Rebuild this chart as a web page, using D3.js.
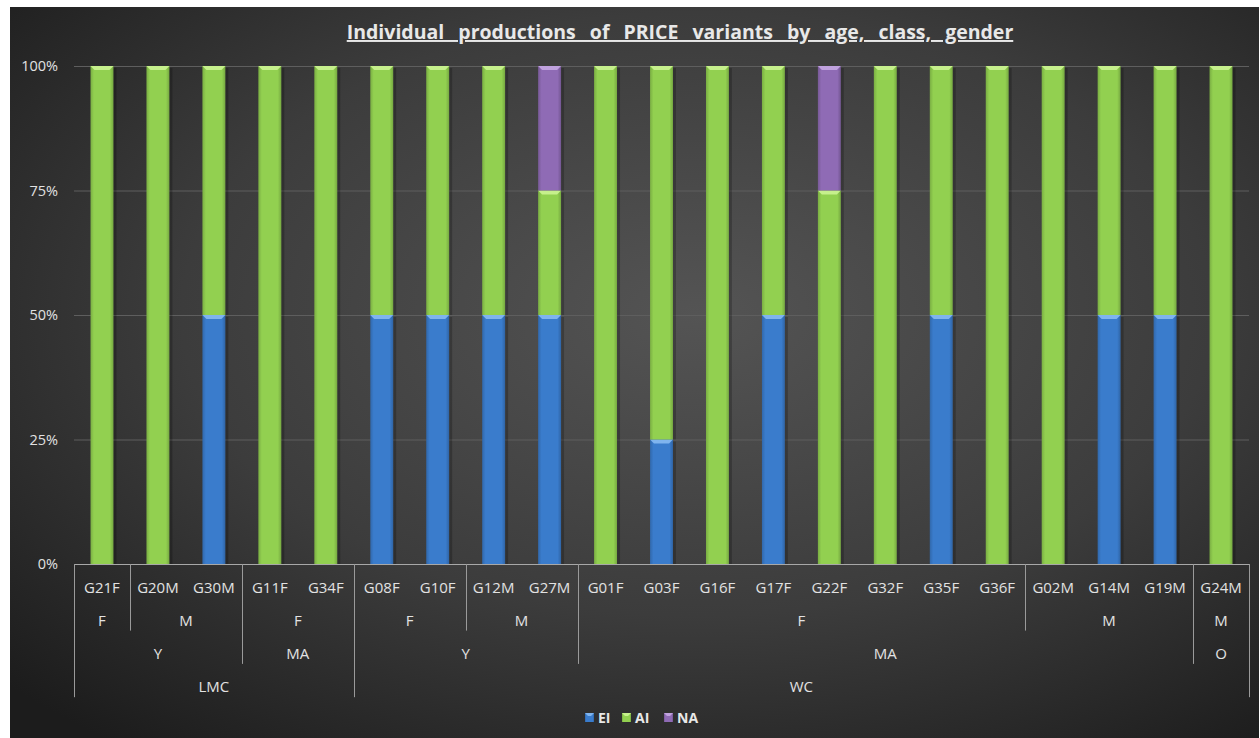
<!DOCTYPE html>
<html lang="en">
<head>
  <meta charset="UTF-8">
  <title>Individual productions of PRICE variants</title>
  <script src="https://d3js.org/d3.v7.min.js"></script>
  <style>
    body { margin: 0; background: #fff; }
    text { font-family: "Open Sans", "DejaVu Sans", sans-serif; }
    .title { font-size: 19.5px; font-weight: bold; fill: #e8e8e8; text-decoration: underline; word-spacing: 9px; }
    .cat { font-size: 15px; fill: #e2e2e2; }
    .ylab { font-size: 14.5px; fill: #e2e2e2; }
    .leg { font-size: 14px; font-weight: bold; fill: #e8e8e8; }
  </style>
</head>
<body>
  <div id="chart"></div>

  <script>
    const speakers = ["G21F","G20M","G30M","G11F","G34F","G08F","G10F","G12M","G27M",
                      "G01F","G03F","G16F","G17F","G22F","G32F","G35F","G36F","G02M","G14M","G19M","G24M"];
    const gender = ["F","M","M","F","F","F","F","M","M",
                    "F","F","F","F","F","F","F","F","M","M","M","M"];
    const age    = ["Y","Y","Y","MA","MA","Y","Y","Y","Y",
                    "MA","MA","MA","MA","MA","MA","MA","MA","MA","MA","MA","O"];
    const cls    = ["LMC","LMC","LMC","LMC","LMC","WC","WC","WC","WC",
                    "WC","WC","WC","WC","WC","WC","WC","WC","WC","WC","WC","WC"];

    const seriesNames = ["EI", "AI", "NA"];
    const EI = [0,0,50,0,0,50,50,50,50, 0,25,0,50,0,0,50,0,0,50,50,0];
    const AI = [100,100,50,100,100,50,50,50,25, 100,75,100,50,75,100,50,100,100,50,50,100];
    const NA = [0,0,0,0,0,0,0,0,25, 0,0,0,0,25,0,0,0,0,0,0,0];
    const yTicks = [0, 25, 50, 75, 100];

    const colors = { EI: "#3a7ccc", AI: "#92d050", NA: "#8f6bb5" };
    const lighter = { EI: "#7fb4ee", AI: "#c6f08c", NA: "#c0a2de" };

    const W = 1260, H = 738;
    const plotL = 74, plotR = 1249, plotT = 66, plotB = 564;
    const rowH = 33.3;

    const svg = d3.select("#chart").append("svg")
      .attr("width", W).attr("height", H);

    const defs = svg.append("defs");
    const bg = defs.append("radialGradient").attr("id", "bg")
      .attr("cx", "0.55").attr("cy", "0.42").attr("r", "0.75");
    bg.append("stop").attr("offset", "0%").attr("stop-color", "#545454");
    bg.append("stop").attr("offset", "55%").attr("stop-color", "#3c3c3c");
    bg.append("stop").attr("offset", "100%").attr("stop-color", "#1c1c1c");

    seriesNames.forEach(s => {
      const g = defs.append("linearGradient").attr("id", "g" + s)
        .attr("x1", "0").attr("x2", "1").attr("y1", "0").attr("y2", "0");
      const c = d3.color(colors[s]);
      g.append("stop").attr("offset", "0%").attr("stop-color", c.darker(0.5));
      g.append("stop").attr("offset", "15%").attr("stop-color", c);
      g.append("stop").attr("offset", "85%").attr("stop-color", c);
      g.append("stop").attr("offset", "100%").attr("stop-color", c.darker(0.6));
    });

    svg.append("rect").attr("x", 10).attr("y", 7).attr("width", 1249).attr("height", 731)
      .attr("fill", "url(#bg)");

    const x = d3.scaleBand().domain(speakers).range([plotL, plotR])
      .paddingInner(0.59).paddingOuter(0.295);
    const y = d3.scaleLinear().domain([0, 100]).range([plotB, plotT]);

    // gridlines
    svg.append("g").selectAll("line").data(yTicks.filter(t => t > 0)).join("line")
      .attr("x1", plotL).attr("x2", plotR)
      .attr("y1", d => y(d) + 0.5).attr("y2", d => y(d) + 0.5)
      .attr("stroke", "#5e5e5e").attr("stroke-width", 1);

    // y labels
    svg.append("g").selectAll("text").data(yTicks).join("text")
      .attr("class", "ylab")
      .attr("x", 58).attr("y", d => y(d)).attr("dy", "0.35em")
      .attr("text-anchor", "end")
      .text(d => d + "%");

    // stacked bars
    const rows = speakers.map((s, i) => ({ name: s, EI: EI[i], AI: AI[i], NA: NA[i] }));
    const stacked = d3.stack().keys(seriesNames)(rows);
    const bw = x.bandwidth();

    stacked.forEach(layer => {
      const key = layer.key;
      const g = svg.append("g");
      const segs = layer.filter(d => d[1] - d[0] > 0);
      g.selectAll("rect.shadow").data(segs).join("rect")
        .attr("class", "shadow")
        .attr("x", d => x(d.data.name) + bw).attr("width", 3)
        .attr("y", d => y(d[1]) + 2).attr("height", d => y(d[0]) - y(d[1]) - 2)
        .attr("fill", "#000").attr("opacity", 0.22);
      g.selectAll("rect.bar").data(segs).join("rect")
        .attr("class", "bar")
        .attr("x", d => x(d.data.name)).attr("width", bw)
        .attr("y", d => y(d[1])).attr("height", d => y(d[0]) - y(d[1]))
        .attr("fill", "url(#g" + key + ")");
      // bevel cap
      g.selectAll("path.cap").data(segs).join("path")
        .attr("class", "cap")
        .attr("d", d => {
          const x0 = x(d.data.name), y0 = y(d[1]);
          return `M${x0},${y0}L${x0 + bw},${y0}L${x0 + bw - 4},${y0 + 4}L${x0 + 4},${y0 + 4}Z`;
        })
        .attr("fill", lighter[key]);
    });

    // axis line
    svg.append("line").attr("x1", plotL).attr("x2", plotR)
      .attr("y1", plotB + 0.5).attr("y2", plotB + 0.5)
      .attr("stroke", "#a8a8a8").attr("stroke-width", 1);

    // multi-level category axis
    const axis = svg.append("g");
    axis.selectAll("text.spk").data(speakers).join("text")
      .attr("class", "cat")
      .attr("x", d => x(d) + bw / 2).attr("y", plotB + rowH * 0.7).attr("dy", "0.35em")
      .attr("text-anchor", "middle").text(d => d);

    const step = x.step();
    const edge = i => plotL + step * i;

    function runs(keyFn) {
      const out = [];
      speakers.forEach((s, i) => {
        const k = keyFn(i);
        if (out.length && out[out.length - 1].k === k) out[out.length - 1].end = i;
        else out.push({ k: k, start: i, end: i });
      });
      return out;
    }
    const levels = [
      { fn: i => cls[i] + "|" + age[i] + "|" + gender[i], lab: i => gender[i] },
      { fn: i => cls[i] + "|" + age[i], lab: i => age[i] },
      { fn: i => cls[i], lab: i => cls[i] }
    ];
    levels.forEach((lv, li) => {
      const r = runs(lv.fn);
      axis.selectAll("text.l" + li).data(r).join("text")
        .attr("class", "cat")
        .attr("x", d => (edge(d.start) + edge(d.end + 1)) / 2)
        .attr("y", plotB + rowH * (li + 1.7)).attr("dy", "0.35em")
        .attr("text-anchor", "middle").text(d => lv.lab(d.start));
    });

    // separators: depth depends on the highest level that changes
    const seps = [];
    for (let i = 0; i <= speakers.length; i++) {
      let depth = 0;
      if (i === 0 || i === speakers.length || cls[i] !== cls[i - 1]) depth = 4;
      else if (age[i] !== age[i - 1]) depth = 3;
      else if (gender[i] !== gender[i - 1]) depth = 2;
      if (depth) seps.push({ i: i, depth: depth });
    }
    axis.selectAll("line.sep").data(seps).join("line")
      .attr("x1", d => Math.round(edge(d.i)) + 0.5).attr("x2", d => Math.round(edge(d.i)) + 0.5)
      .attr("y1", plotB).attr("y2", d => plotB + rowH * d.depth)
      .attr("stroke", "#9a9a9a").attr("stroke-width", 1);

    // title
    svg.append("text").attr("class", "title")
      .attr("x", 680).attr("y", 39).attr("text-anchor", "middle")
      .text("Individual productions of PRICE variants by age, class, gender");

    // legend
    const legX = [585, 622, 664];
    const leg = svg.append("g");
    seriesNames.forEach((s, i) => {
      leg.append("rect").attr("x", legX[i]).attr("y", 713).attr("width", 9).attr("height", 9)
        .attr("fill", "url(#g" + s + ")");
      leg.append("path")
        .attr("d", `M${legX[i]},713L${legX[i] + 9},713L${legX[i] + 6},716L${legX[i] + 3},716Z`)
        .attr("fill", lighter[s]);
      leg.append("text").attr("class", "leg")
        .attr("x", legX[i] + 13).attr("y", 718).attr("dy", "0.35em").text(s);
    });
  </script>
</body>
</html>
